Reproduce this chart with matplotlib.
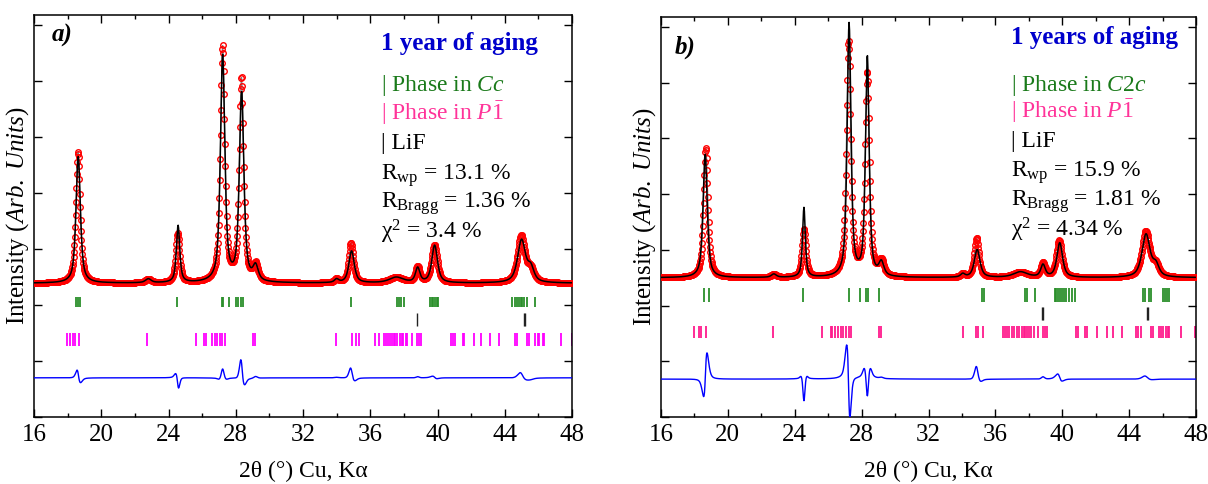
import numpy as np
import matplotlib
matplotlib.use('Agg')
import matplotlib.pyplot as plt

plt.rcParams['font.family'] = 'Liberation Serif'
plt.rcParams['mathtext.fontset'] = 'custom'
plt.rcParams['mathtext.rm'] = 'Liberation Serif'
plt.rcParams['mathtext.it'] = 'Liberation Serif:italic'
plt.rcParams['mathtext.bf'] = 'Liberation Serif:bold'

# ---- panel a) : peak table (2theta, heights in tick units) ----
pos_a    = [18.62, 22.8, 24.55, 27.22, 28.34, 29.18, 34.0, 34.86, 37.55, 38.82, 39.82, 44.98, 45.55]
hobs_a   = [2.34, 0.07, 0.88, 4.20, 3.63, 0.29, 0.07, 0.72, 0.10, 0.28, 0.68, 0.84, 0.22]
hcalc_a  = [2.26, 0.07, 1.02, 4.04, 3.36, 0.26, 0.06, 0.57, 0.10, 0.26, 0.67, 0.76, 0.24]
wobs_a   = [0.30, 0.40, 0.27, 0.30, 0.30, 0.35, 0.30, 0.32, 1.00, 0.30, 0.40, 0.52, 0.45]
wcalc_a  = [0.31, 0.40, 0.24, 0.31, 0.32, 0.37, 0.30, 0.38, 1.00, 0.31, 0.40, 0.56, 0.45]
dx_a     = [0.01, 0.0, 0.02, 0.0, 0.01, 0.0, 0.0, 0.03, 0.0, 0.0, 0.01, 0.02, 0.0]
base_a = 2.39
diffbase_a = 0.70

green_a = [18.51, 18.62, 18.73, 24.50, 27.16, 27.25, 27.57, 28.03, 28.12, 28.3, 28.45, 34.84,
           37.57, 37.7, 37.85, 37.98, 39.57, 39.65, 39.75, 39.85, 39.95, 40.03,
           44.42, 44.6, 44.75, 44.85, 44.95, 45.05, 45.15, 45.3, 45.79]
lif_a = [38.78, 45.12, 45.2]
mag_a = [17.94, 18.12, 18.3, 18.46, 18.67, 22.72, 25.61, 26.13, 26.25, 26.59, 26.75, 26.89,
         27.05, 27.2, 27.39, 29.05, 29.16, 33.99, 34.9, 35.13, 35.31,
         36.3, 36.5, 36.84, 36.95, 37.06, 37.18, 37.3, 37.4, 37.5, 37.6, 37.75, 37.86, 37.97,
         38.1, 38.2, 38.5, 38.78, 38.9, 39.0, 40.78, 40.94, 41.05, 41.5, 41.6, 42.19, 42.6,
         43.1, 43.67, 44.58, 44.7, 45.33, 45.42, 45.79, 45.95, 46.06, 46.25, 46.34, 47.32, 47.98]

# ---- panel b) ----
pos_b    = [18.68, 22.75, 24.55, 27.22, 28.34, 29.18, 34.05, 34.88, 37.5, 38.85, 39.82, 45.0, 45.6]
hobs_b   = [2.33, 0.06, 0.86, 4.21, 3.64, 0.26, 0.06, 0.71, 0.10, 0.26, 0.66, 0.82, 0.20]
hcalc_b  = [2.22, 0.06, 1.25, 4.54, 3.95, 0.24, 0.06, 0.50, 0.10, 0.22, 0.62, 0.77, 0.20]
wobs_b   = [0.30, 0.35, 0.27, 0.30, 0.30, 0.35, 0.30, 0.32, 1.00, 0.30, 0.40, 0.55, 0.45]
wcalc_b  = [0.30, 0.35, 0.20, 0.27, 0.26, 0.36, 0.30, 0.40, 1.00, 0.32, 0.40, 0.57, 0.45]
dx_b     = [-0.04, 0.0, 0.0, 0.03, 0.0, 0.0, 0.0, 0.03, 0.0, 0.0, 0.03, 0.01, 0.0]
base_b = 2.50
diffbase_b = 0.68

green_b = [18.6, 18.9, 24.51, 27.25, 27.9, 28.29, 28.41, 29.05, 35.2, 35.29, 37.75, 37.91, 38.38,
           39.54, 39.65, 39.77, 39.88, 40.0, 40.1, 40.23, 40.4, 40.58, 40.74,
           44.8, 44.94, 45.17, 45.33, 46.03, 46.14, 46.26, 46.38]
lif_b = [38.8, 38.87, 45.07, 45.14]
mag_b = [17.97, 18.27, 18.39, 18.67, 22.72, 25.62, 26.16, 26.25, 26.43, 26.6, 26.78, 26.9,
         27.06, 27.25, 27.36, 29.05, 29.15, 34.09, 34.85, 34.94, 35.25,
         36.45, 36.55, 36.68, 36.84, 37.02, 37.13, 37.3, 37.42, 37.58, 37.7, 37.8, 37.91, 38.03,
         38.15, 38.33, 38.56, 38.84, 38.95, 39.07, 40.81, 40.93, 41.39, 41.5, 42.09, 42.67,
         43.06, 43.6, 44.4, 44.52, 44.7, 45.33, 45.45, 45.8, 45.9, 46.03, 46.2, 46.3, 46.38,
         47.1, 47.93]

tt = np.arange(15.5, 48.5, 0.025)


def pattern(x, pos, h, w, dx, base, eta=0.7):
    y = np.full_like(x, base)
    for p, hh, ww, d in zip(pos, h, w, dx):
        u = (x - p - d) / ww
        y += hh * (eta / (1 + 4 * u**2) + (1 - eta) * np.exp(-4 * np.log(2) * u**2))
    return y


def panel(ax, pos, hobs, hcalc, wobs, wcalc, dx, base, diffbase,
          green, lif, mag, green_y, lif_y, mag_y, magcol, letter, title, legend, ys):
    obs = pattern(tt, pos, hobs, wobs, [0] * len(pos), base)
    calc = pattern(tt, pos, hcalc, wcalc, dx, base)
    ax.plot(tt, obs, color='grey', lw=0.8, zorder=2)
    ax.plot(tt, obs, 'o', mfc='none', mec='red', ms=4.0, mew=1.0, zorder=3)
    ax.plot(tt, calc, color='black', lw=1.1, zorder=4)
    ax.plot(tt, obs - calc + diffbase, color='blue', lw=1.0, zorder=3)
    ax.vlines(green, green_y[0], green_y[1], color='#2a8f2a', lw=1.3)
    ax.vlines(lif, lif_y[0], lif_y[1], color='#222222', lw=1.0)
    ax.vlines(mag, mag_y[0], mag_y[1], color=magcol, lw=1.3)

    ax.set_xlim(16, 48)
    ax.set_ylim(0, 7.18)
    ax.set_xticks(np.arange(16, 49, 4))
    ax.set_xticks(np.arange(16, 49, 2), minor=True)
    ax.set_yticks(np.arange(0, 8, 1))
    ax.set_yticklabels([])
    ax.tick_params(which='both', direction='in', top=True, right=True, labelsize=18, pad=5)
    ax.tick_params(which='major', length=6, width=1)
    ax.tick_params(which='minor', length=3, width=1)
    for s in ax.spines.values():
        s.set_linewidth(1.1)
    ax.set_xlabel('2θ (°) Cu, Kα', fontsize=17)
    ax.xaxis.set_label_coords(0.5, -0.11)
    ax.set_ylabel(r'Intensity $\mathit{(Arb.\ Units)}$', fontsize=18)
    ax.yaxis.set_label_coords(-0.006, 0.5)

    ax.text(letter[0], letter[1], letter[2], transform=ax.transAxes, fontsize=18,
            fontweight='bold', fontstyle='italic', va='center')
    ax.text(title[0], title[1], title[2], transform=ax.transAxes, fontsize=18,
            fontweight='bold', color='#0000cc', va='center')
    cols = ['#1a7a1a', '#ff3399', 'black', 'black', 'black', 'black']
    for s, c, y in zip(legend, cols, ys):
        ax.text(title[0], y, s, transform=ax.transAxes, fontsize=17, color=c, va='center')


fig = plt.figure(figsize=(12.08, 4.84), dpi=100)
ax1 = fig.add_axes([34 / 1208, 67 / 484, 538 / 1208, 402 / 484])
ax2 = fig.add_axes([661 / 1208, 67 / 484, 535 / 1208, 400 / 484])

leg_a = ['| Phase in $\\mathit{Cc}$', '| Phase in $\\mathit{P\\bar{1}}$', '| LiF',
         'R$_{\\rm wp}$ = 13.1 %', 'R$_{\\rm Bragg}$ = 1.36 %', 'χ$^{2}$ = 3.4 %']
leg_b = ['| Phase in $\\mathit{C2c}$', '| Phase in $\\mathit{P\\bar{1}}$', '| LiF',
         'R$_{\\rm wp}$ = 15.9 %', 'R$_{\\rm Bragg}$ = 1.81 %', 'χ$^{2}$ = 4.34 %']

ys_a = [1 - (y - 15) / 402 for y in [86, 113, 143, 176, 204, 232]]
ys_b = [1 - (y - 17) / 400 for y in [86, 111, 142, 173, 202, 230]]

panel(ax1, pos_a, hobs_a, hcalc_a, wobs_a, wcalc_a, dx_a, base_a, diffbase_a,
      green_a, lif_a, mag_a, (1.96, 2.14), (1.63, 1.86), (1.27, 1.50), '#ff00ff',
      (0.033, 0.948, 'a)'), (0.645, 0.930, '1 year of aging'), leg_a, ys_a)
panel(ax2, pos_b, hobs_b, hcalc_b, wobs_b, wcalc_b, dx_b, base_b, diffbase_b,
      green_b, lif_b, mag_b, (2.06, 2.31), (1.74, 1.97), (1.42, 1.63), '#ff1a8c',
      (0.026, 0.925, 'b)'), (0.654, 0.948, '1 years of aging'), leg_b, ys_b)

fig.savefig('out.png', dpi=100)
